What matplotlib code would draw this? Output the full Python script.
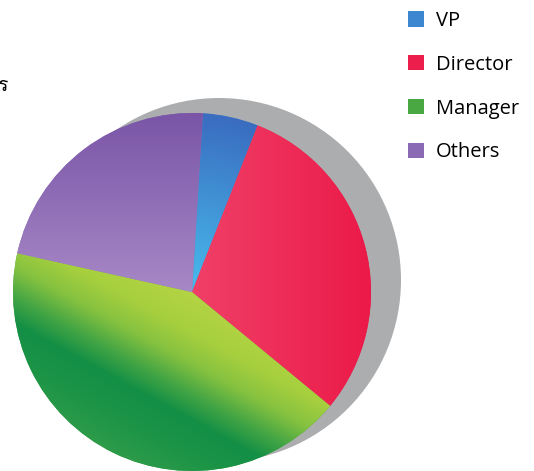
import matplotlib
matplotlib.use("Agg")
import matplotlib.pyplot as plt
import numpy as np
from matplotlib.colors import LinearSegmentedColormap
from matplotlib.patches import Circle
from matplotlib import font_manager, ft2font

labels = ['VP', 'Director', 'Manager', 'Others']
shares = [5, 30, 42.5, 22.5]
base_colors = ['#3d86d0', '#ec1f4c', '#4aa843', '#8a6ab5']
side_text = 'ร'

W, H = 534, 471
cx, cy, r = 192, H - 292, 179          # pie centre / radius in pixel units (y up)
shadow_xy, shadow_r = (219, H - 280), 182


def font_for(ch):
    '''first installed family that has a glyph for ch'''
    for f in font_manager.fontManager.ttflist:
        try:
            if ord(ch) in ft2font.FT2Font(f.fname).get_charmap():
                return f.name
        except Exception:
            pass
    return None


fig = plt.figure(figsize=(W / 100, H / 100), dpi=100)
ax = fig.add_axes([0, 0, 1, 1])

wedges, _ = ax.pie(shares, colors=base_colors, startangle=86.5, counterclock=False,
                   center=(cx, cy), radius=r, wedgeprops=dict(linewidth=0))
ax.add_patch(Circle(shadow_xy, shadow_r, color='#abadaf', zorder=0, lw=0))
ax.set_xlim(0, W)
ax.set_ylim(0, H)
ax.set_aspect('equal')
ax.axis('off')

# shaded fills, clipped to each wedge
xx, yy = np.meshgrid(np.arange(W) + 0.5, H - (np.arange(H) + 0.5))
dx = (xx - cx) / r
dy = (yy - cy) / r
fields = [
    np.hypot(dx, dy),
    np.clip(dx, 0, 1),
    np.clip(-0.48 * dx - 0.88 * dy, 0, 1),
    np.clip(dy, 0, 1),
]
ramps = [
    [(0, '#48bcec'), (1, '#3a6cc0')],
    [(0, '#f04068'), (1, '#eb1a48')],
    [(0, '#b4d444'), (0.2, '#a6cf3e'), (0.35, '#86c240'), (0.5, '#44a544'),
     (0.63, '#138f46'), (0.8, '#1b9446'), (1.0, '#2d9b4a')],
    [(0, '#a788c6'), (1, '#7a55a7')],
]
for w, t, ramp in zip(wedges, fields, ramps):
    cmap = LinearSegmentedColormap.from_list('g', ramp)
    im = ax.imshow(cmap(t), extent=(0, W, 0, H), origin='upper', zorder=2,
                   interpolation='bilinear')
    im.set_clip_path(w)

ax.legend(wedges, labels, loc='upper left', bbox_to_anchor=(408 / W, 1 - 11 / H),
          frameon=False, labelspacing=1.18, handlelength=0.8,
          handleheight=0.8, handletextpad=0.6, borderpad=0, borderaxespad=0,
          prop={'family': 'Open Sans', 'size': 14.5})

fam = font_for(side_text)
if fam:
    ax.text(7, H - 86, side_text, ha='right', va='center', fontsize=14, family=fam)

fig.savefig('out.png', dpi=100)
